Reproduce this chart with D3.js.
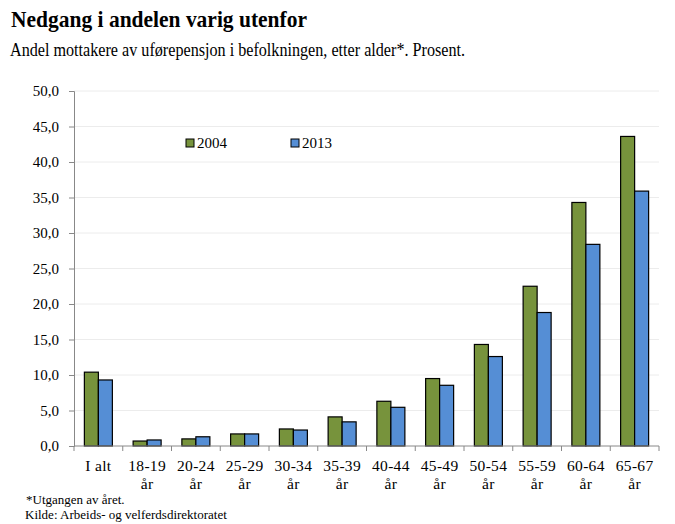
<!DOCTYPE html>
<html>
<head>
<meta charset="utf-8">
<script src="https://cdn.jsdelivr.net/npm/d3@7"></script>
<style>
  body { margin: 0; background: #fff; }
  text { font-family: "Liberation Serif", "Times New Roman", serif; fill: #000; }
</style>
</head>
<body>
<div id="chart"></div>
<script>
var categories = ["I alt", "18-19 år", "20-24 år", "25-29 år", "30-34 år", "35-39 år",
    "40-44 år", "45-49 år", "50-54 år", "55-59 år", "60-64 år", "65-67 år"];
var values2004 = [10.4, 0.7, 1.0, 1.7, 2.4, 4.1, 6.3, 9.5, 14.3, 22.5, 34.3, 43.6];
var values2013 = [9.3, 0.85, 1.3, 1.7, 2.25, 3.4, 5.45, 8.55, 12.6, 18.8, 28.4, 35.9];
var seriesNames = ["2004", "2013"];
var colors = ["#77933C", "#558ED5"];
var yTicks = [0, 5, 10, 15, 20, 25, 30, 35, 40, 45, 50];

var width = 675, height = 524;
var margin = { top: 91, bottom: 78, left: 74, right: 16 };

var svg = d3.select("#chart").append("svg")
    .attr("width", width)
    .attr("height", height);

svg.append("text")
    .attr("x", 11).attr("y", 27)
    .attr("font-size", "23px")
    .attr("font-weight", "bold")
    .attr("textLength", 296)
    .attr("lengthAdjust", "spacingAndGlyphs")
    .text("Nedgang i andelen varig utenfor");

svg.append("text")
    .attr("x", 10).attr("y", 56)
    .attr("font-size", "19px")
    .attr("textLength", 455)
    .attr("lengthAdjust", "spacingAndGlyphs")
    .text("Andel mottakere av uførepensjon i befolkningen, etter alder*. Prosent.");

var x = d3.scaleBand()
    .domain(categories)
    .range([margin.left, width - margin.right]);

var y = d3.scaleLinear()
    .domain([0, 50])
    .range([height - margin.bottom, margin.top]);

// gridlines
svg.append("g").selectAll("line")
    .data(yTicks.slice(1))
    .enter().append("line")
    .attr("x1", margin.left)
    .attr("x2", width - margin.right)
    .attr("y1", function (d) { return y(d); })
    .attr("y2", function (d) { return y(d); })
    .attr("stroke", "#ececec")
    .attr("stroke-width", 1);

// bars
var barW = 14;
var groups = [values2004, values2013];
groups.forEach(function (vals, s) {
    svg.append("g").selectAll("rect")
        .data(vals)
        .enter().append("rect")
        .attr("x", function (d, i) {
            return x(categories[i]) + x.bandwidth() / 2 - barW + s * barW;
        })
        .attr("y", function (d) { return y(d); })
        .attr("width", barW)
        .attr("height", function (d) { return y(0) - y(d); })
        .attr("fill", colors[s])
        .attr("stroke", "#000")
        .attr("stroke-width", 1.2);
});

// y axis
var yAxis = svg.append("g")
    .attr("transform", "translate(" + margin.left + ",0)")
    .call(d3.axisLeft(y).tickValues(yTicks).tickSize(5).tickPadding(10)
        .tickFormat(function (d) { return d3.format(".1f")(d).replace(".", ","); }));
yAxis.select(".domain").attr("stroke", "#888");
yAxis.selectAll(".tick line").attr("stroke", "#888");
yAxis.selectAll("text")
    .attr("font-size", "15px")
    .attr("font-family", "Liberation Serif, serif")
    .attr("fill", "#000");

// x axis baseline and boundary ticks
var xAxisG = svg.append("g");
xAxisG.append("line")
    .attr("x1", margin.left).attr("x2", width - margin.right)
    .attr("y1", y(0)).attr("y2", y(0))
    .attr("stroke", "#888");
xAxisG.selectAll("line.tk")
    .data(d3.range(categories.length + 1))
    .enter().append("line")
    .attr("class", "tk")
    .attr("x1", function (i) { return margin.left + i * x.bandwidth(); })
    .attr("x2", function (i) { return margin.left + i * x.bandwidth(); })
    .attr("y1", y(0))
    .attr("y2", y(0) + 5)
    .attr("stroke", "#888");

var labels = xAxisG.selectAll("text.xl")
    .data(categories)
    .enter().append("text")
    .attr("class", "xl")
    .attr("text-anchor", "middle")
    .attr("font-size", "15.5px")
    .attr("letter-spacing", "0.3px")
    .attr("x", function (d) { return x(d) + x.bandwidth() / 2; })
    .attr("y", y(0) + 25);
labels.each(function (d) {
    var parts = d.split(" ");
    var t = d3.select(this);
    if (d === "I alt") { t.text(d); return; }
    t.append("tspan").attr("x", t.attr("x")).text(parts[0]);
    t.append("tspan").attr("x", t.attr("x")).attr("dy", 18).text(parts[1]);
});

// legend
var legendX = [186, 291];
seriesNames.forEach(function (name, s) {
    svg.append("rect")
        .attr("x", legendX[s]).attr("y", 139)
        .attr("width", 8).attr("height", 8)
        .attr("fill", colors[s])
        .attr("stroke", "#000")
        .attr("stroke-width", 1);
    svg.append("text")
        .attr("x", legendX[s] + 11).attr("y", 148)
        .attr("font-size", "15px")
        .text(name);
});

// footnotes
svg.append("text")
    .attr("x", 26).attr("y", 504)
    .attr("font-size", "13px")
    .text("*Utgangen av året.");
svg.append("text")
    .attr("x", 25).attr("y", 519)
    .attr("font-size", "13px")
    .text("Kilde: Arbeids- og velferdsdirektoratet");
</script>
</body>
</html>
